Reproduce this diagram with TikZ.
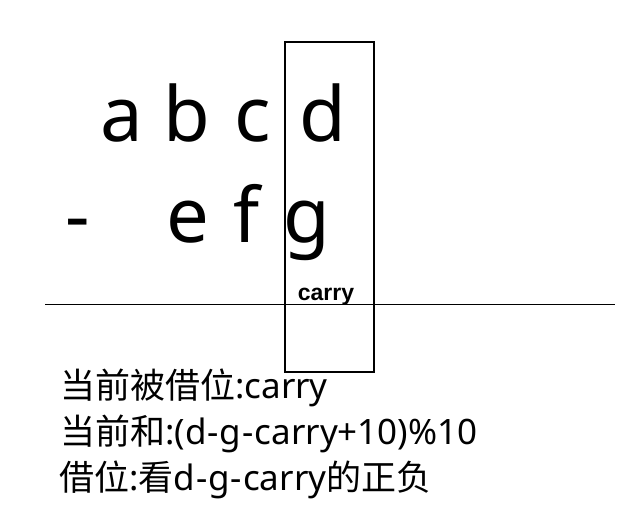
\documentclass[tikz,border=0pt]{standalone}
\usepackage{fontspec}
\setmainfont{Noto Sans}
\newfontfamily\cjk{Noto Sans CJK SC}
\newfontfamily\labelfont{Liberation Sans}
\newcommand\hy{\kern1pt-\kern1pt}
\usepackage{tikz}
\usetikzlibrary{positioning}

\begin{document}
\begin{tikzpicture}[
    x=1pt, y=-1pt,
    digit/.style={anchor=base, inner sep=0pt, font=\fontsize{76}{76}\selectfont},
    note/.style={anchor=base west, inner sep=0pt, font=\fontsize{35}{35}\selectfont},
    small/.style={anchor=base, inner sep=0pt, font=\fontsize{23}{23}\selectfont\labelfont\bfseries}
]
    \useasboundingbox (0,0) rectangle (628,518);

    \foreach \x/\val in {122/a, 187/b, 253/c, 323/d} \node[digit] (top-\val) at (\x,142) {\val};
    \foreach \x/\val in {188/e, 247/f, 307/g} \node[digit] (bot-\val) at (\x,243) {\val};
    \node[digit] (minus) at (78,243) {-};

    \node[small] (carry) at (326,300) {carry};

    \draw[line width=1.2pt] (285,42) rectangle (374,372);
    \coordinate (rule-l) at (45,304);
    \coordinate (rule-r) at (615,304);
    \draw[line width=0.8pt] (rule-l) -- (rule-r);

    \node[note] (line1) at (60,398) {{\cjk 当前被借位}:carry};
    \node[note] (line2) at (60,444) {{\cjk 当前和}:(d\hy g\hy carry+10)\%10};
    \node[note] (line3) at (59,490) {{\cjk 借位}:{\cjk 看}d\hy g\hy carry{\cjk 的正负}};
\end{tikzpicture}
\end{document}
